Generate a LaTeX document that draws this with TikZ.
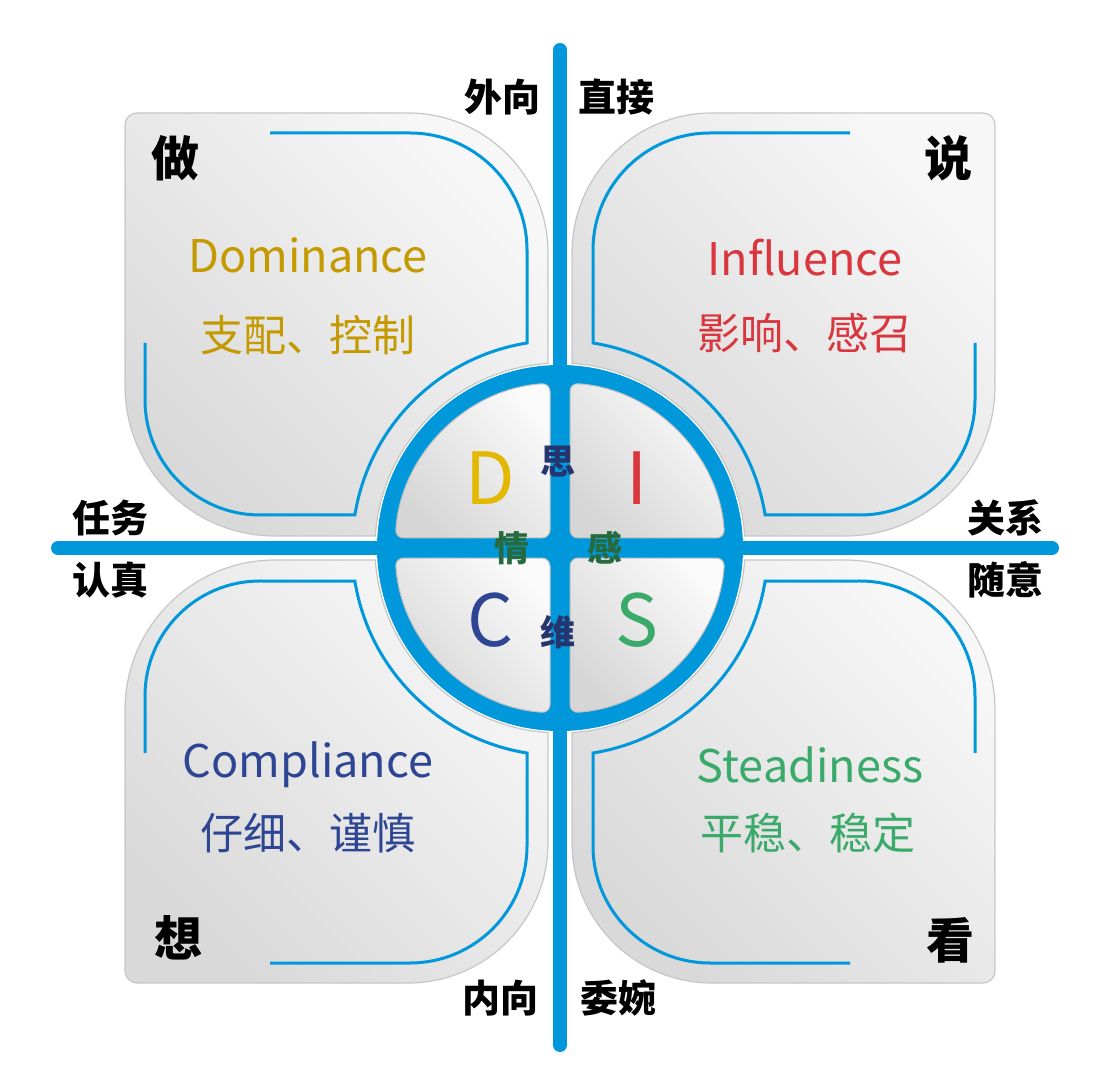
\documentclass[tikz,border=0pt]{standalone}
\usepackage{fontspec}
\setmainfont{Noto Sans CJK SC}
\begin{document}
\begin{tikzpicture}[x=1pt,y=1pt,
  every node/.style={inner sep=0pt,anchor=center},
  panel/.style={left color=gray!30,right color=gray!6,shading angle=135,draw=gray!45,line width=1.2},
  inner/.style={left color=gray!32,right color=gray!4,shading angle=135,draw=gray!50,line width=1},
  blueline/.style={draw=dblue,line width=3,line cap=butt},
  corner/.style={font=\fontsize{48}{48}\selectfont\bfseries},
  axis/.style={font=\fontsize{38}{38}\selectfont\bfseries},
  eng/.style={font=\fontsize{45}{45}\selectfont},
  chn/.style={font=\fontsize{43}{43}\selectfont},
  big/.style={font=\fontsize{72}{72}\selectfont},
  mid/.style={font=\fontsize{35}{35}\selectfont\bfseries}]
\definecolor{dblue}{HTML}{0098DA}
\definecolor{cD}{HTML}{C49A00}\definecolor{cDD}{HTML}{E3B800}
\definecolor{cI}{HTML}{D9363E}\definecolor{cC}{HTML}{2E4593}
\definecolor{cS}{HTML}{3AAA6A}\definecolor{cN}{HTML}{253570}
\definecolor{cG}{HTML}{256B3F}
\useasboundingbox (0,0) rectangle (1117,1080);
\foreach \sx/\sy in {1/1,-1/1,1/-1,-1/-1}{
\begin{scope}[shift={(560,532)},xscale=\sx,yscale=\sy]
  \path[panel] (-423,435) -- (-152,435) arc[start angle=90,end angle=0,radius=140]
    -- (-12,184.6) arc[start angle=93.7,end angle=176.3,radius=185]
    -- (-285,12) arc[start angle=270,end angle=180,radius=150]
    -- (-435,423) arc[start angle=180,end angle=90,radius=12] -- cycle;
  \draw[blueline] (-290,415) -- (-150,415) arc[start angle=90,end angle=0,radius=117]
    -- (-33,205) arc[start angle=99.1,end angle=170.8,radius=207.6]
    -- (-300,33) arc[start angle=270,end angle=180,radius=115] -- (-415,205);
\end{scope}}
\fill[dblue] (560,532) circle[radius=183];
\foreach \sx/\sy in {1/1,-1/1,1/-1,-1/-1}{
\begin{scope}[shift={(560,532)},xscale=\sx,yscale=\sy]
  \path[inner,rounded corners=8] (-10,10) -- (-10,164.7) arc[start angle=93.5,end angle=176.5,radius=165] -- cycle;
\end{scope}}
\coordinate (vt) at (560,1030); \coordinate (vb) at (560,35);
\coordinate (hl) at (58,532); \coordinate (hr) at (1052,532);
\draw[dblue,line width=14,line cap=round] (vt) -- (vb);
\draw[dblue,line width=14,line cap=round] (hl) -- (hr);
\node[corner] (zuo) at (175,922) {做};
\node[corner] (shuo) at (948,922) {说};
\node[corner] (xiang) at (178,142) {想};
\node[corner] (kan) at (950,140) {看};
\node[eng,text=cD] (dom) at (308,825) {Dominance};
\node[chn,text=cD] (domc) at (308,745) {支配、控制};
\node[eng,text=cI] (inf) at (805,822) {Influence};
\node[chn,text=cI] (infc) at (805,747) {影响、感召};
\node[eng,text=cC] (com) at (308,315) {Compliance};
\node[chn,text=cC] (comc) at (308,247) {仔细、谨慎};
\node[eng,text=cS] (ste) at (810,315) {Steadiness};
\node[chn,text=cS] (stec) at (808,247) {平稳、稳定};
\node[axis] (a1) at (502,983) {外向};
\node[axis] (a2) at (616,983) {直接};
\node[axis] (a3) at (500,82) {内向};
\node[axis] (a4) at (618,82) {委婉};
\node[axis] (a5) at (110,562) {任务};
\node[axis] (a6) at (110,500) {认真};
\node[axis] (a7) at (1005,562) {关系};
\node[axis] (a8) at (1005,500) {随意};
\node[big,text=cDD] (bD) at (490,602) {D};
\node[big,text=cI] (bI) at (637,602) {I};
\node[big,text=cC] (bC) at (490,460) {C};
\node[big,text=cS] (bS) at (637,460) {S};
\node[mid,text=cN] (si) at (558,618) {思};
\node[mid,text=cG] (qing) at (512,532) {情};
\node[mid,text=cG] (gan) at (605,532) {感};
\node[mid,text=cN] (wei) at (558,448) {维};
\end{tikzpicture}
\end{document}
